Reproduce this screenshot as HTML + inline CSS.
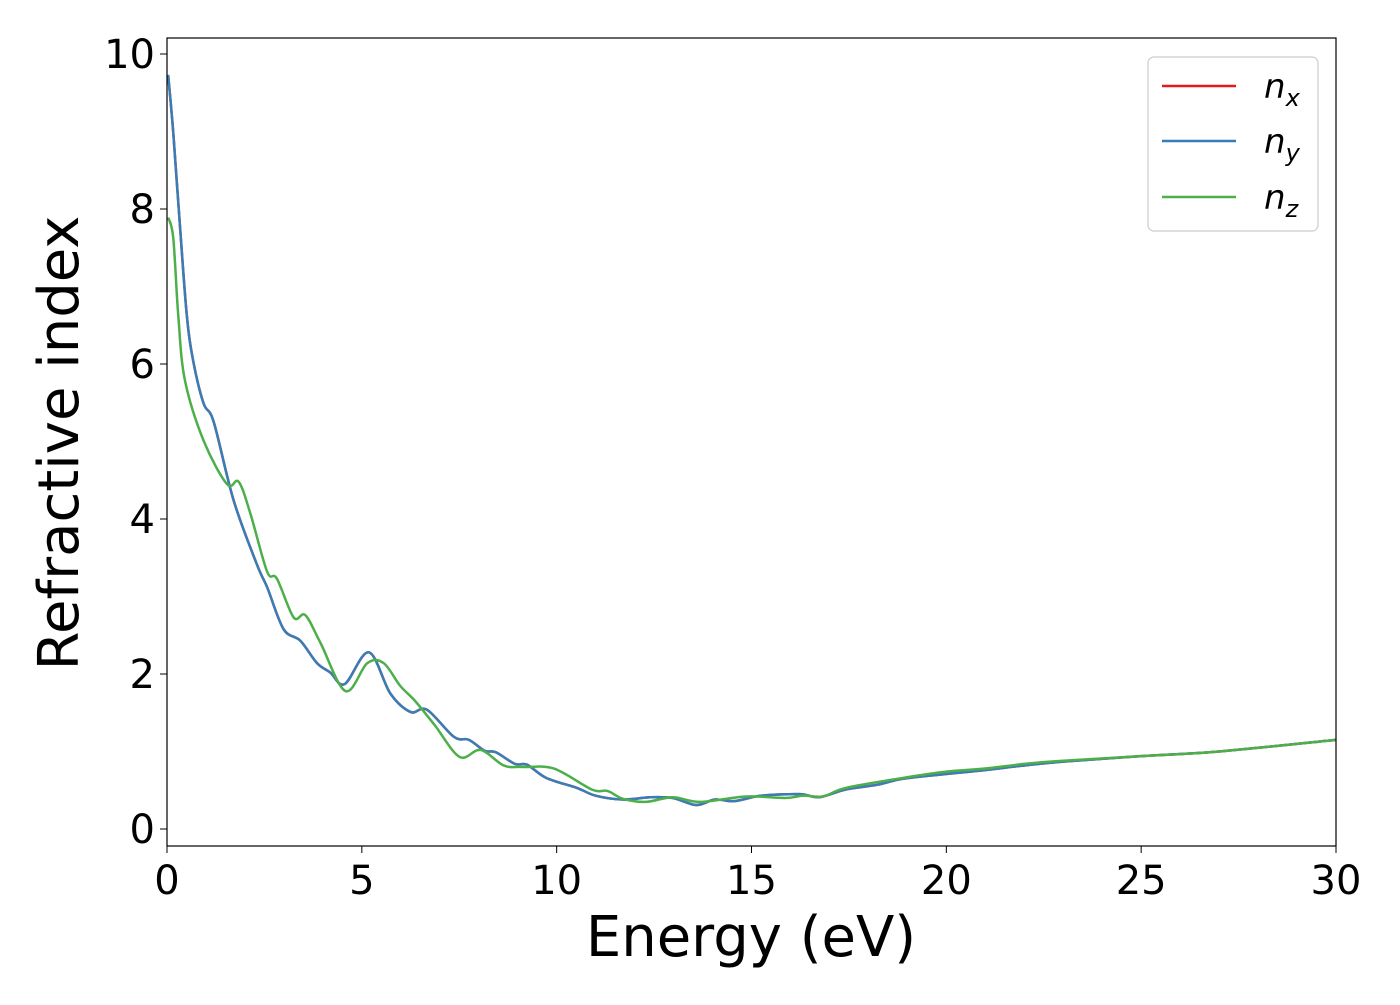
<!DOCTYPE html>
<html><head><meta charset="utf-8"><style>
body{margin:0;background:#fff;}
svg text{font-family:"DejaVu Sans","Liberation Sans",sans-serif;}
</style></head><body>
<svg id="chart" width="1400" height="1000" xmlns="http://www.w3.org/2000/svg">
<rect x="0" y="0" width="1400" height="1000" fill="#fff"/>
<g id="plot"></g>
<rect x="167" y="38" width="1169" height="808" fill="none" stroke="#000" stroke-width="1.2"/>
<g id="axes"></g>
<text x="751" y="956" font-size="56" text-anchor="middle">Energy (eV)</text>
<text transform="translate(78,443) rotate(-90)" font-size="56" text-anchor="middle">Refractive index</text>
<g>
<rect x="1148" y="57" width="170" height="174" rx="6" fill="#fff" fill-opacity="0.8" stroke="#ccc" stroke-width="1.2"/>
<line x1="1162" y1="86" x2="1236" y2="86" stroke="#e41a1c" stroke-width="2.5"/>
<text x="1264" y="98" font-size="34" font-style="italic">n<tspan font-size="24" dy="8">x</tspan></text>
<line x1="1162" y1="141" x2="1236" y2="141" stroke="#377eb8" stroke-width="2.5"/>
<text x="1264" y="153" font-size="34" font-style="italic">n<tspan font-size="24" dy="8">y</tspan></text>
<line x1="1162" y1="197" x2="1236" y2="197" stroke="#4daf4a" stroke-width="2.5"/>
<text x="1264" y="209" font-size="34" font-style="italic">n<tspan font-size="24" dy="8">z</tspan></text>
</g>
</svg>
<script>
const xTicks=[0,5,10,15,20,25,30];
const yTicks=[0,2,4,6,8,10];
const energyXY=[0.03,0.16,0.33,0.51,0.68,0.94,1.2,1.71,2.31,2.57,2.99,3.42,3.85,4.19,4.56,5.18,5.73,6.25,6.67,7.36,7.75,8.15,8.44,8.93,9.24,9.73,10.52,11.0,11.7,12.4,12.98,13.58,14.06,14.56,15.26,16.24,16.73,17.42,18.22,18.9,20,21,22,23,25,27,30];
const nXY=[9.73,8.99,7.8,6.62,6.02,5.49,5.25,4.24,3.41,3.12,2.58,2.43,2.14,2.02,1.87,2.28,1.75,1.51,1.54,1.19,1.15,1.01,0.99,0.84,0.83,0.66,0.53,0.43,0.38,0.41,0.40,0.31,0.38,0.36,0.43,0.45,0.41,0.51,0.57,0.65,0.71,0.76,0.82,0.87,0.94,1.00,1.15];
const energyZ=[0.03,0.16,0.29,0.46,0.94,1.54,1.84,2.14,2.57,2.82,3.25,3.55,3.94,4.58,5.14,5.56,5.98,6.37,6.87,7.51,8.05,8.64,9.13,9.93,10.9,11.31,11.7,12.29,12.98,13.68,14.86,15.85,16.34,16.84,17.42,18.9,20,21,22,23,25,27,30];
const nZ=[7.89,7.63,6.62,5.79,5.01,4.45,4.48,4.07,3.32,3.23,2.73,2.76,2.4,1.78,2.14,2.14,1.85,1.65,1.34,0.93,1.02,0.82,0.80,0.78,0.51,0.49,0.39,0.35,0.41,0.35,0.42,0.40,0.43,0.42,0.53,0.66,0.74,0.78,0.84,0.88,0.94,1.00,1.15];
const X=v=>167+v*(1169/30);
const Y=v=>829-v*77.5;
const NS="http://www.w3.org/2000/svg";
function pathFor(xs,ys){
  const p=xs.map((x,i)=>[X(x),Y(ys[i])]);
  let d="M"+p[0][0]+","+p[0][1];
  for(let i=0;i<p.length-1;i++){
    const p0=p[i-1]||p[i],p1=p[i],p2=p[i+1],p3=p[i+2]||p2;
    d+=" C"+(p1[0]+(p2[0]-p0[0])/6)+","+(p1[1]+(p2[1]-p0[1])/6)+" "+(p2[0]-(p3[0]-p1[0])/6)+","+(p2[1]-(p3[1]-p1[1])/6)+" "+p2[0]+","+p2[1];
  }
  return d;
}
const plot=document.getElementById('plot');
function addLine(xs,ys,color,name){
  const el=document.createElementNS(NS,'path');
  el.setAttribute('d',pathFor(xs,ys));
  el.setAttribute('fill','none');
  el.setAttribute('stroke',color);
  el.setAttribute('stroke-width','2.5');
  
  
  plot.appendChild(el);
}
addLine(energyXY,nXY,'#e41a1c','series-nx');
addLine(energyXY,nXY,'#377eb8','series-ny');
addLine(energyZ,nZ,'#4daf4a','series-nz');
const axes=document.getElementById('axes');
xTicks.forEach(t=>{
  const l=document.createElementNS(NS,'line');
  l.setAttribute('x1',X(t));l.setAttribute('x2',X(t));l.setAttribute('y1',846);l.setAttribute('y2',853);
  l.setAttribute('stroke','#000');
  
  
  axes.appendChild(l);
  const tx=document.createElementNS(NS,'text');
  tx.setAttribute('x',X(t));tx.setAttribute('y',894);tx.setAttribute('font-size','40');tx.setAttribute('text-anchor','middle');
  tx.textContent=t;
  
  
  axes.appendChild(tx);
});
yTicks.forEach(t=>{
  const l=document.createElementNS(NS,'line');
  l.setAttribute('x1',160);l.setAttribute('x2',167);l.setAttribute('y1',Y(t));l.setAttribute('y2',Y(t));
  l.setAttribute('stroke','#000');
  
  
  axes.appendChild(l);
  const tx=document.createElementNS(NS,'text');
  tx.setAttribute('x',155);tx.setAttribute('y',Y(t)+14);tx.setAttribute('font-size','40');tx.setAttribute('text-anchor','end');
  tx.textContent=t;
  
  
  axes.appendChild(tx);
});
</script>
</body></html>
